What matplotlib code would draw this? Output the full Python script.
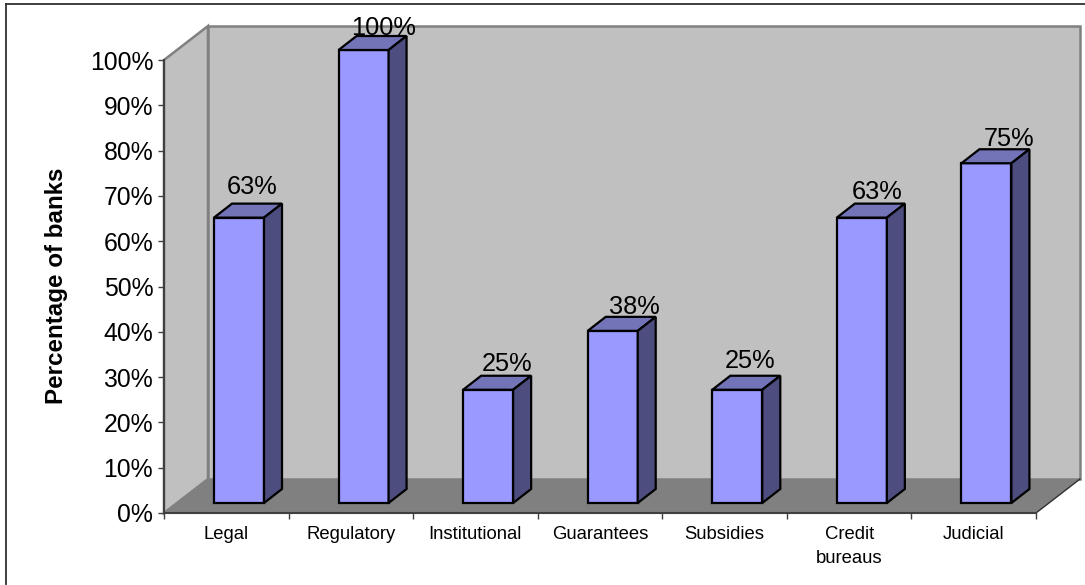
import matplotlib
matplotlib.use("Agg")
import matplotlib.pyplot as plt
from matplotlib.lines import Line2D
from matplotlib.patches import Polygon

categories = ["Legal", "Regulatory", "Institutional", "Guarantees", "Subsidies", "Credit\nbureaus", "Judicial"]
values = [63, 100, 25, 38, 25, 63, 75]
y_ticks = [0, 10, 20, 30, 40, 50, 60, 70, 80, 90, 100]

# hand placement of the value labels, in pixels from the bar's top front corner / back edge
label_dx = [38, 45, 44, 47, 38, 40, 48]
label_dy = [17, 8, 12, 10, 15, 12, 10]

W, H = 1085, 585
plt.rcParams["font.family"] = ["Liberation Sans", "DejaVu Sans"]

fig = plt.figure(figsize=(W / 100, H / 100), dpi=100)
ax = fig.add_axes([164 / W, (H - 513) / H, 872 / W, 453 / H])
ax.set_xlim(0, 7)
ax.set_ylim(0, 100)
ax.patch.set_visible(False)

# frame lines along the top and left of the chart area
fig.add_artist(Line2D([5.5 / W, 5.5 / W], [1 / H, (H - 4) / H], transform=fig.transFigure, color="#303030", linewidth=1.3))
fig.add_artist(Line2D([5.5 / W, 1], [(H - 4) / H, (H - 4) / H], transform=fig.transFigure, color="#303030", linewidth=1.3))

# depth of the box and of the bars, in data units
px_x, px_y = 872 / 7, 4.53
depth_x, depth_y = 44 / px_x, 34 / px_y
bar_dx, bar_dy = 18 / px_x, 14 / px_y
bar_w = 50 / px_x
bar_x0 = 50 / px_x
bar_y0 = 10 / px_y


def poly(pts, **kw):
    ax.add_patch(Polygon(pts, closed=True, clip_on=False, **kw))


wall = "#c0c0c0"
edge = "#808080"
# side wall, back wall, floor
poly([(0, 0), (depth_x, depth_y), (depth_x, 100 + depth_y), (0, 100)], facecolor=wall, edgecolor=edge, linewidth=1.8, zorder=1)
poly([(depth_x, depth_y), (7 + depth_x, depth_y), (7 + depth_x, 100 + depth_y), (depth_x, 100 + depth_y)],
     facecolor=wall, edgecolor=edge, linewidth=1.8, zorder=1)
poly([(0, 0), (7, 0), (7 + depth_x, depth_y), (depth_x, depth_y)], facecolor="#808080", edgecolor="none", zorder=1)
ax.plot([7, 7 + depth_x], [0, depth_y], color="#303030", linewidth=1, clip_on=False, zorder=2)

# bars: front, top and side faces
for i, v in enumerate(values):
    x0 = i + bar_x0
    x1 = x0 + bar_w
    y0 = bar_y0
    y1 = bar_y0 + v
    poly([(x0, y0), (x1, y0), (x1, y1), (x0, y1)], facecolor="#9999ff", edgecolor="black", linewidth=1.6, zorder=3)
    poly([(x0, y1), (x1, y1), (x1 + bar_dx, y1 + bar_dy), (x0 + bar_dx, y1 + bar_dy)],
         facecolor="#7373b8", edgecolor="black", linewidth=1.6, zorder=3)
    poly([(x1, y0), (x1 + bar_dx, y0 + bar_dy), (x1 + bar_dx, y1 + bar_dy), (x1, y1)],
         facecolor="#4d4d80", edgecolor="black", linewidth=1.6, zorder=3)
    ax.annotate(f"{v}%", (x0, y1 + bar_dy), xytext=(label_dx[i], label_dy[i]), textcoords="offset pixels",
                ha="center", va="center", fontsize=18.3, color="black", zorder=4, annotation_clip=False)

for side in ["top", "right"]:
    ax.spines[side].set_visible(False)
for side in ["left", "bottom"]:
    ax.spines[side].set_color("#404040")
    ax.spines[side].set_linewidth(1.5)
    ax.spines[side].set_zorder(2)

ax.set_xlim(0, 7)
ax.set_ylim(0, 100)
ax.set_yticks(y_ticks)
ax.set_yticklabels([f"{t}%" for t in y_ticks], fontsize=17.8)
ax.tick_params(axis="y", length=4.3, width=1, color="#404040", pad=3.5)

# ticks sit between categories, labels are centred in each slot
ax.set_xticks(range(8))
ax.set_xticklabels([])
ax.set_xticks([i + 0.5 for i in range(7)], categories, minor=True, fontsize=13.3, linespacing=1.5)
ax.tick_params(axis="x", which="major", length=4.3, width=1, color="#404040")
ax.tick_params(axis="x", which="minor", length=0, pad=9.5)

fig.text(57 / W, (H - 286) / H, "Percentage of banks", rotation=90, ha="center", va="center",
         fontsize=17.4, fontweight="bold")

fig.savefig("out.png", dpi=100)
